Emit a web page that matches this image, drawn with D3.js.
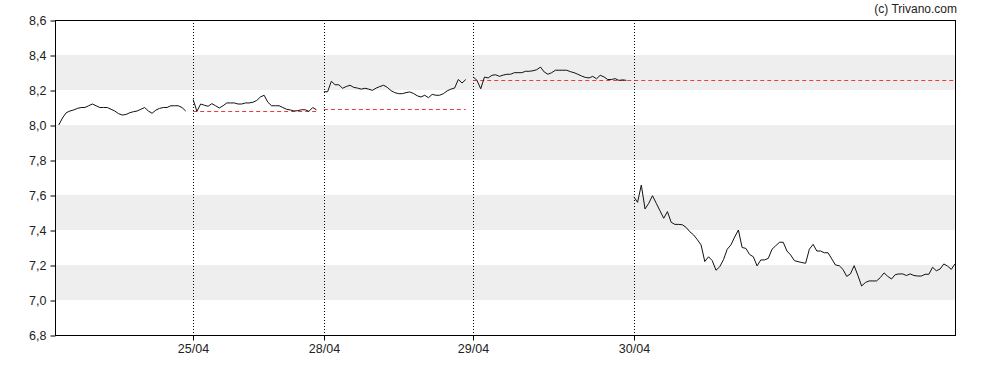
<!DOCTYPE html>
<html>
<head>
<meta charset="utf-8">
<script src="https://cdn.jsdelivr.net/npm/d3@7"></script>
<style>
	body { margin: 0; background: #fff; overflow: hidden; }
	svg { display: block; }
	text { font-family: 'Liberation Sans', Arial, sans-serif; }
</style>
</head>
<body>
<div id="chart"></div>
<script>
var dayLabels = ['24/04', '25/04', '28/04', '29/04', '30/04'];
var day1 = [8.00, 8.04, 8.07, 8.08, 8.086, 8.095, 8.10, 8.10, 8.11, 8.12,
	8.11, 8.10, 8.10, 8.10, 8.09, 8.08, 8.065, 8.057, 8.06, 8.07,
	8.076, 8.08, 8.09, 8.10, 8.08, 8.067, 8.085, 8.095, 8.10, 8.10,
	8.11, 8.11, 8.11, 8.10, 8.08];
var day2 = [8.145, 8.078, 8.12, 8.113, 8.107, 8.122, 8.11, 8.097, 8.11, 8.126,
	8.126, 8.126, 8.12, 8.12, 8.126, 8.126, 8.13, 8.14, 8.16, 8.17,
	8.13, 8.11, 8.11, 8.11, 8.10, 8.09, 8.086, 8.08, 8.082, 8.087,
	8.087, 8.078, 8.10, 8.087];
var day3 = [8.19, 8.19, 8.25, 8.23, 8.23, 8.21, 8.22, 8.227, 8.215, 8.211,
	8.205, 8.21, 8.205, 8.198, 8.211, 8.22, 8.227, 8.215, 8.196, 8.185,
	8.179, 8.179, 8.185, 8.189, 8.18, 8.167, 8.16, 8.17, 8.156, 8.175,
	8.17, 8.17, 8.179, 8.195, 8.205, 8.211, 8.26, 8.24, 8.26];
var day4 = [8.274, 8.255, 8.207, 8.274, 8.269, 8.284, 8.287, 8.278, 8.285, 8.29,
	8.29, 8.299, 8.299, 8.299, 8.307, 8.307, 8.31, 8.316, 8.331, 8.303,
	8.29, 8.299, 8.313, 8.313, 8.313, 8.313, 8.305, 8.299, 8.29, 8.28,
	8.272, 8.269, 8.278, 8.264, 8.284, 8.275, 8.26, 8.26, 8.265, 8.255,
	8.258, 8.255];
var day5 = [7.59, 7.558, 7.657, 7.52, 7.553, 7.596, 7.553, 7.51, 7.467, 7.505,
	7.444, 7.432, 7.432, 7.43, 7.415, 7.39, 7.372, 7.345, 7.315, 7.22,
	7.247, 7.225, 7.17, 7.19, 7.23, 7.29, 7.315, 7.36, 7.40, 7.30,
	7.295, 7.26, 7.247, 7.195, 7.229, 7.229, 7.238, 7.29, 7.31, 7.33,
	7.33, 7.28, 7.257, 7.225, 7.219, 7.214, 7.21, 7.29, 7.318, 7.28,
	7.28, 7.27, 7.27, 7.235, 7.20, 7.196, 7.175, 7.135, 7.149, 7.196,
	7.14, 7.08, 7.10, 7.109, 7.109, 7.109, 7.128, 7.155, 7.135, 7.12,
	7.145, 7.149, 7.149, 7.14, 7.149, 7.14, 7.137, 7.137, 7.147, 7.147,
	7.187, 7.167, 7.177, 7.206, 7.194, 7.175, 7.206];
// previous close shown as dashed reference for each day
var prevClose = [null, 8.08, 8.09, 8.26, 8.26];
var yTicks = [6.8, 7.0, 7.2, 7.4, 7.6, 7.8, 8.0, 8.2, 8.4, 8.6];
var bands = [[7.0, 7.2], [7.4, 7.6], [7.8, 8.0], [8.2, 8.4]];

(function() {
	var width = 988,
		height = 370,
		left = 55,
		right = 955,
		top = 20,
		bottom = 335;

	// each day gets consecutive sample slots, one empty slot before it
	var series = [day1, day2, day3, day4, day5];
	var days = [];
	var slot = 0;
	series.forEach(function(vals, i) {
		var start = i === 0 ? 1 : slot + 2;
		days.push({
			label: dayLabels[i],
			start: start,
			end: start + vals.length - 1,
			values: vals.map(function(v, j) { return { i: start + j, v: v }; }),
			ref: prevClose[i]
		});
		slot = start + vals.length - 1;
	});
	var lastSlot = slot;

	var x = d3.scaleLinear().domain([0, lastSlot]).range([left, right]);
	var y = d3.scaleLinear().domain([6.8, 8.6]).range([bottom, top]);

	var svg = d3.select('#chart').append('svg')
		.attr('width', width)
		.attr('height', height);

	svg.append('rect').attr('width', width).attr('height', height).attr('fill', '#fff');

	svg.selectAll('.band')
		.data(bands)
		.enter()
		.append('rect')
		.attr('class', 'band')
		.attr('x', left)
		.attr('width', right - left)
		.attr('y', function(d) { return y(d[1]); })
		.attr('height', function(d) { return y(d[0]) - y(d[1]); })
		.attr('fill', '#eeeeee');

	var dayTicks = days.slice(1);

	// dotted day separators
	svg.selectAll('.sep')
		.data(dayTicks)
		.enter()
		.append('line')
		.attr('class', 'sep')
		.attr('x1', function(d) { return Math.round(x(d.start)) + 0.5; })
		.attr('x2', function(d) { return Math.round(x(d.start)) + 0.5; })
		.attr('y1', top)
		.attr('y2', bottom)
		.attr('stroke', '#000')
		.attr('stroke-width', 1)
		.attr('stroke-dasharray', '1,2');

	// reference lines, merged when the next day keeps the same level
	var refs = [];
	days.forEach(function(d) {
		if(d.ref == null) return;
		var last = refs[refs.length - 1];
		if(last && last.v === d.ref && last.to === d.start - 2) last.to = d.end;
		else refs.push({ from: d.start, to: d.end, v: d.ref });
	});
	svg.selectAll('.ref')
		.data(refs)
		.enter()
		.append('line')
		.attr('class', 'ref')
		.attr('x1', function(d) { return x(d.from); })
		.attr('x2', function(d) { return x(d.to); })
		.attr('y1', function(d) { return Math.round(y(d.v)) + 0.5; })
		.attr('y2', function(d) { return Math.round(y(d.v)) + 0.5; })
		.attr('stroke', '#f03a3a')
		.attr('stroke-width', 1)
		.attr('stroke-dasharray', '4,3');

	var line = d3.line()
		.x(function(d) { return x(d.i); })
		.y(function(d) { return y(d.v); });

	svg.selectAll('.price')
		.data(days)
		.enter()
		.append('path')
		.attr('class', 'price')
		.attr('d', function(d) { return line(d.values); })
		.attr('fill', 'none')
		.attr('stroke', '#111')
		.attr('stroke-width', 1);

	// frame
	svg.append('rect')
		.attr('x', left + 0.5)
		.attr('y', top + 0.5)
		.attr('width', right - left)
		.attr('height', bottom - top)
		.attr('fill', 'none')
		.attr('stroke', '#000')
		.attr('stroke-width', 1);

	var yAxis = svg.append('g')
		.attr('transform', 'translate(' + (left + 0.5) + ',0.5)')
		.call(d3.axisLeft(y)
			.tickValues(yTicks)
			.tickSize(5)
			.tickPadding(4)
			.tickFormat(function(d) { return d3.format('.1f')(d).replace('.', ','); }));
	yAxis.select('.domain').remove();
	yAxis.selectAll('text').attr('font-size', '12.5px').attr('fill', '#222').style('font-family', "'Liberation Sans', Arial, sans-serif");
	yAxis.selectAll('line').attr('stroke', '#000');

	var xAxis = svg.append('g')
		.attr('transform', 'translate(0,' + (bottom + 0.5) + ')')
		.call(d3.axisBottom(x)
			.tickValues(dayTicks.map(function(d) { return d.start; }))
			.tickSize(5)
			.tickPadding(4)
			.tickFormat(function(d) {
				return days.filter(function(e) { return e.start === d; })[0].label;
			}));
	xAxis.select('.domain').remove();
	xAxis.selectAll('.tick').attr('transform', function(d) { return 'translate(' + (Math.round(x(d)) + 0.5) + ',0)'; });
	xAxis.selectAll('text').attr('font-size', '12.5px').attr('fill', '#222').style('font-family', "'Liberation Sans', Arial, sans-serif");
	xAxis.selectAll('line').attr('stroke', '#000');

	svg.append('text')
		.attr('x', 957)
		.attr('y', 13)
		.attr('text-anchor', 'end')
		.attr('font-size', '12px')
		.attr('fill', '#222')
		.text('(c) Trivano.com');
})();
</script>
</body>
</html>
